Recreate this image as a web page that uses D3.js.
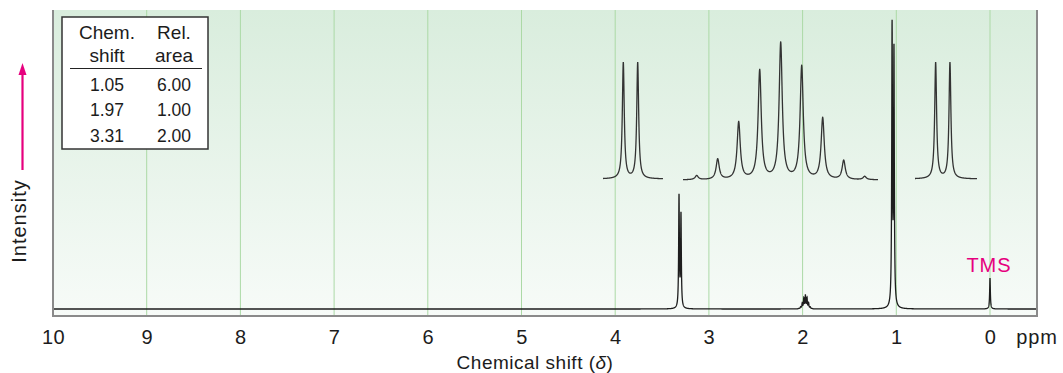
<!DOCTYPE html>
<html>
<head>
  <meta charset="utf-8">
  <title>1H NMR spectrum</title>
  <script src="https://d3js.org/d3.v7.min.js"></script>
  <style>
    body { margin: 0; background: #fff; }
    text { font-family: "Liberation Sans", Arial, sans-serif; fill: #1c1c1c; }
  </style>
</head>
<body>
  <svg width="1063" height="373"></svg>
  <script>
// tick labels on the shift axis
const tickValues = [10, 9, 8, 7, 6, 5, 4, 3, 2, 1, 0];

// table in the corner
const tableShift = ["1.05", "1.97", "3.31"];
const tableArea = ["6.00", "1.00", "2.00"];

// lines of the main spectrum (ppm) and their heights (0-100)
const lineShifts = [3.319, 3.298,
  2.038, 2.021, 2.004, 1.987, 1.970, 1.953, 1.936, 1.919, 1.902,
  1.045, 1.025, 0.000];
const lineHeights = [38.6, 32.1,
  0.14, 0.62, 1.8, 3.5, 4.4, 3.6, 1.9, 0.56, 0.12,
  96.0, 87.4, 10.7];

// expanded multiplets (offsets in units of J, relative heights)
const doubletJ = [-0.5, 0.5];
const doubletHeights = [0.86, 0.86];
const nonetJ = [-4, -3, -2, -1, 0, 1, 2, 3, 4];
const nonetHeights = [0.03, 0.15, 0.42, 0.80, 1.0, 0.83, 0.45, 0.14, 0.024];

const svg = d3.select('svg');

// plot frame
const fLeft = 53, fRight = 1037, fTop = 10, fBottom = 316;

const x = d3.scaleLinear().domain([10, 0]).range([53, 990]);
const y = d3.scaleLinear().domain([0, 100]).range([309, 20]);

// background gradient
const defs = svg.append('defs');
const grad = defs.append('linearGradient')
  .attr('id', 'bg').attr('x1', 0).attr('y1', 0).attr('x2', 0).attr('y2', 1);
grad.append('stop').attr('offset', '0%').attr('stop-color', '#d9eddd');
grad.append('stop').attr('offset', '100%').attr('stop-color', '#f7fbf8');

svg.append('rect')
  .attr('x', fLeft).attr('y', fTop)
  .attr('width', fRight - fLeft).attr('height', fBottom - fTop)
  .attr('fill', 'url(#bg)');

// vertical grid
svg.append('g')
  .selectAll('line')
  .data(tickValues.filter(d => d < 10))
  .join('line')
  .attr('x1', d => x(d)).attr('x2', d => x(d))
  .attr('y1', fTop).attr('y2', fBottom)
  .attr('stroke', '#acd9a6')
  .attr('stroke-width', 1);

// lorentzian sum
const lorentz = (pos, heights, gamma) => t =>
  d3.sum(pos, (p, i) => heights[i] * gamma * gamma / ((t - p) * (t - p) + gamma * gamma));

const mainShape = lorentz(lineShifts, lineHeights, 0.0045);
const grid = d3.range(-0.5, 10.0001, 0.0008);

const line = d3.line()
  .x(d => x(d))
  .y(d => y(mainShape(d)));

svg.append('path')
  .datum(grid)
  .attr('fill', 'none')
  .attr('stroke', '#1e1e1e')
  .attr('stroke-width', 1.3)
  .attr('d', line);

// frame borders (no top)
svg.append('path')
  .attr('d', `M${fLeft},${fTop}V${fBottom}H${fRight}V${fTop}`)
  .attr('fill', 'none')
  .attr('stroke', '#8a8a8a')
  .attr('stroke-width', 2);

// insets
const insets = [
  { J: doubletJ, h: doubletHeights, cx: 630.5, px: 14.4, x0: 603, x1: 663, y0: 179, g: 0.08 },
  { J: nonetJ, h: nonetHeights, cx: 780.7, px: 21.0, x0: 683, x1: 878, y0: 180, g: 0.09 },
  { J: doubletJ, h: doubletHeights, cx: 942.8, px: 14.3, x0: 915, x1: 977, y0: 179, g: 0.08 }
];

insets.forEach(ins => {
  const jFrom = (ins.x0 - ins.cx) / ins.px;
  const jTo = (ins.x1 - ins.cx) / ins.px;
  const ix = d3.scaleLinear().domain([jFrom, jTo]).range([ins.x0, ins.x1]);
  const iy = d3.scaleLinear().domain([0, 1]).range([ins.y0, 44]);
  const shape = lorentz(ins.J, ins.h, ins.g);
  const pts = d3.range(jFrom, jTo + 0.0001, 0.005);
  svg.append('path')
    .datum(pts)
    .attr('fill', 'none')
    .attr('stroke', '#333')
    .attr('stroke-width', 1.3)
    .attr('d', d3.line().x(d => ix(d)).y(d => iy(shape(d))));
});

// x axis
const axis = svg.append('g')
  .attr('transform', `translate(0,${fBottom})`)
  .call(d3.axisBottom(x).tickValues(tickValues).tickSize(0).tickPadding(14).tickFormat(d3.format('d')));
axis.select('.domain').remove();
axis.selectAll('text')
  .style('font-family', '"Liberation Sans", Arial, sans-serif')
  .style('font-size', '20px')
  .style('letter-spacing', '0.5px')
  .attr('fill', '#1c1c1c');

svg.append('text')
  .attr('x', 1037).attr('y', 344)
  .attr('text-anchor', 'middle')
  .style('font-size', '20px')
  .style('letter-spacing', '0.8px')
  .text('ppm');

const title = svg.append('text')
  .attr('x', 535).attr('y', 369)
  .attr('text-anchor', 'middle')
  .style('font-size', '19px')
  .style('letter-spacing', '0.5px');
title.append('tspan').text('Chemical shift (');
title.append('tspan').style('font-style', 'italic').text('δ');
title.append('tspan').text(')');

// intensity label + arrow
svg.append('text')
  .attr('transform', 'translate(26,221) rotate(-90)')
  .attr('text-anchor', 'middle')
  .style('font-size', '20px')
  .style('letter-spacing', '1px')
  .text('Intensity');

const pink = '#e6007e';
svg.append('line')
  .attr('x1', 22.5).attr('x2', 22.5)
  .attr('y1', 170).attr('y2', 72)
  .attr('stroke', pink).attr('stroke-width', 2.2);
svg.append('path')
  .attr('d', 'M22.5,63L18.5,75L26.5,75Z')
  .attr('fill', pink);

svg.append('text')
  .attr('x', 989).attr('y', 272)
  .attr('text-anchor', 'middle')
  .style('font-size', '20px')
  .style('letter-spacing', '1px')
  .style('fill', pink)
  .text('TMS');

// table
const tbl = svg.append('g');
tbl.append('rect')
  .attr('x', 62).attr('y', 17).attr('width', 146).attr('height', 132)
  .attr('fill', '#fff').attr('stroke', '#333').attr('stroke-width', 1.5);
tbl.append('line')
  .attr('x1', 70).attr('x2', 202).attr('y1', 68.5).attr('y2', 68.5)
  .attr('stroke', '#222').attr('stroke-width', 1.2);

const colX = [107, 174];
[['Chem.', 'shift'], ['Rel.', 'area']].forEach((hd, c) => {
  hd.forEach((s, r) => {
    tbl.append('text')
      .attr('x', colX[c]).attr('y', 39 + r * 22.5)
      .attr('text-anchor', 'middle')
      .style('font-size', '19px')
      .text(s);
  });
});
const rowY = d3.scaleLinear().domain([0, 2]).range([90.5, 141.5]);
tbl.selectAll('.sh').data(tableShift).join('text')
  .attr('x', colX[0]).attr('y', (d, i) => rowY(i))
  .attr('text-anchor', 'middle').style('font-size', '17.5px').text(d => d);
tbl.selectAll('.ar').data(tableArea).join('text')
  .attr('x', colX[1]).attr('y', (d, i) => rowY(i))
  .attr('text-anchor', 'middle').style('font-size', '17.5px').text(d => d);
  </script>
</body>
</html>
